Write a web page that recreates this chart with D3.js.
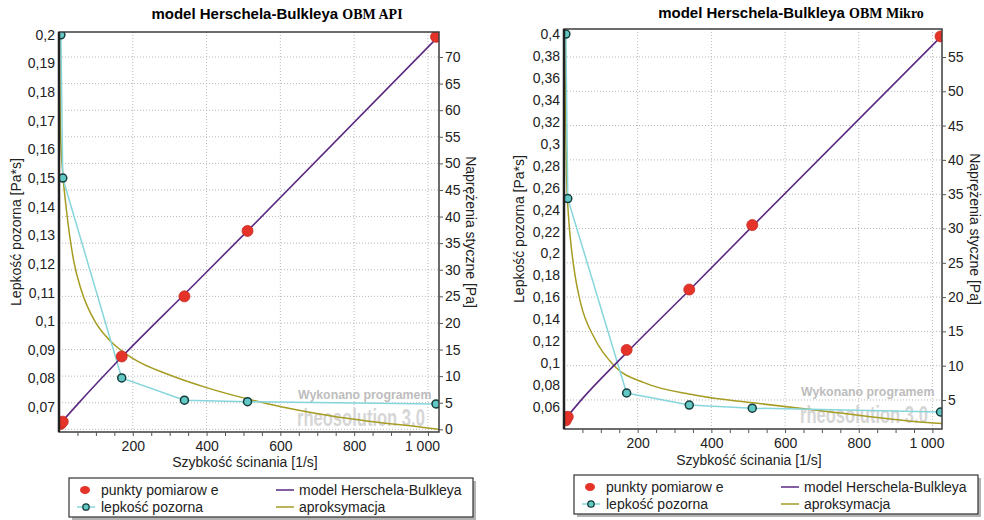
<!DOCTYPE html>
<html>
<head>
<meta charset="utf-8">
<script src="https://cdn.jsdelivr.net/npm/d3@7"></script>
<style>
  body { margin: 0; background: #fff; }
  text { font-family: "Liberation Sans", Arial, sans-serif; }
</style>
</head>
<body>
<svg id="chart" width="984" height="520"></svg>
<script>
// measured shear rates (Fann 3/6/100/200/300/600 rpm)
var shearRates = [5.11, 10.22, 170, 340, 511, 1022];

// OBM API
var apiViscosity = [0.2, 0.15, 0.0802, 0.0724, 0.0719, 0.0711];
var apiStress = [1.02, 1.45, 13.7, 25.0, 37.3, 73.8];
var apiModelRates = [0, 50, 170, 340, 511, 1022];
var apiModelStress = [0.8, 4.7, 13.6, 25.4, 37.3, 73.4];
var apiFitRates = [1, 2.5, 5, 10, 20, 40, 60, 100, 140, 200, 300, 400, 565, 743, 1005, 1030];
var apiFitViscosity = [0.2, 0.178, 0.163, 0.152, 0.139, 0.121, 0.111, 0.0994, 0.093, 0.087, 0.0812, 0.0768, 0.0712, 0.0668, 0.0626, 0.0622];

// OBM Mikro
var mikroViscosity = [0.4, 0.25, 0.0728, 0.0618, 0.059, 0.0555];
var mikroStress = [2.04, 2.55, 12.3, 21.1, 30.5, 58.0];
var mikroModelRates = [0, 50, 170, 340, 511, 1022];
var mikroModelStress = [2.0, 5.2, 11.9, 21.0, 30.3, 57.9];
var mikroFitRates = [2, 4, 7, 12, 20, 30, 45, 84, 138, 219, 354, 535, 714, 1003, 1030];
var mikroFitViscosity = [0.4, 0.33, 0.27, 0.235, 0.205, 0.18, 0.155, 0.122, 0.097, 0.082, 0.071, 0.063, 0.056, 0.0455, 0.045];

// tick labels
var xTicks = [200, 400, 600, 800, 1000];
var xMinorTicks = [50, 100, 150, 200, 250, 300, 350, 400, 450, 500, 550, 600, 650, 700, 750, 800, 850, 900, 950, 1000];
var apiLeftTicks = [0.07, 0.08, 0.09, 0.1, 0.11, 0.12, 0.13, 0.14, 0.15, 0.16, 0.17, 0.18, 0.19, 0.2];
var apiRightTicks = [0, 5, 10, 15, 20, 25, 30, 35, 40, 45, 50, 55, 60, 65, 70];
var mikroLeftTicks = [0.06, 0.08, 0.1, 0.12, 0.14, 0.16, 0.18, 0.2, 0.22, 0.24, 0.26, 0.28, 0.3, 0.32, 0.34, 0.36, 0.38, 0.4];
var mikroRightTicks = [5, 10, 15, 20, 25, 30, 35, 40, 45, 50, 55];

var legendLabels = ["punkty pomiarow e", "model Herschela-Bulkleya", "lepkość pozorna", "aproksymacja"];

var colRed = "#e63329";
var colModel = "#5a2a82";
var colVisc = "#86d6dc";
var colFit = "#a59c22";

var loc = d3.formatLocale({decimal: ",", thousands: "\u00a0", grouping: [3], currency: ["", ""]});
var fmtX = loc.format(",d");
var fmtL = loc.format(".2~f");
var fmtR = loc.format("d");

var svg = d3.select("#chart");

function drawPanel(p, idx) {
  var w = p.right - p.left;
  var h = p.bottom - p.top;

  var x = d3.scaleLinear().domain([0, p.xMax]).range([0, w]);
  var yL = d3.scaleLinear().domain(p.leftDomain).range([h, 0]);
  var yR = d3.scaleLinear().domain(p.rightDomain).range([h, 0]);

  var g = svg.append("g").attr("transform", `translate(${p.left}, ${p.top})`);

  // title
  var title = svg.append("text")
    .attr("x", p.titleX).attr("y", p.titleY)
    .attr("text-anchor", "middle");
  title.append("tspan").attr("font-weight", "bold").attr("font-size", "15px")
    .text("model Herschela-Bulkleya ");
  title.append("tspan").attr("font-weight", "bold").attr("font-size", "14px")
    .style("font-family", "'Liberation Serif', 'Times New Roman', serif")
    .text(p.name);

  var clipId = "clip" + idx;
  g.append("clipPath").attr("id", clipId)
    .append("rect").attr("width", w).attr("height", h);

  // grid
  g.append("g").selectAll("line").data(xTicks).join("line")
    .attr("x1", d => x(d)).attr("x2", d => x(d))
    .attr("y1", 0).attr("y2", h)
    .attr("stroke", "#b8b8b8").attr("stroke-dasharray", "1,2");
  g.append("g").selectAll("line").data(p.rightTicks).join("line")
    .attr("x1", 0).attr("x2", w)
    .attr("y1", d => yR(d)).attr("y2", d => yR(d))
    .attr("stroke", "#b8b8b8").attr("stroke-dasharray", "1,2");

  var plot = g.append("g").attr("clip-path", `url(#${clipId})`);

  // watermark (squeezed horizontally like the original)
  plot.append("g").attr("transform", `translate(${w - 141}, ${h - 33}) scale(0.95, 1)`)
    .append("text")
    .attr("font-size", "13px").attr("font-weight", "bold").attr("fill", "#bdbdbd")
    .text("Wykonano programem");
  plot.append("g").attr("transform", `translate(${w - 142}, ${h - 6}) scale(0.72, 1)`)
    .append("text")
    .attr("font-size", "23px").attr("font-weight", "bold").attr("fill", "#d6d6d6")
    .text("rheosolution 3.0");

  var lineL = d3.line().x(d => x(d[0])).y(d => yL(d[1]));
  var lineR = d3.line().x(d => x(d[0])).y(d => yR(d[1])).curve(d3.curveMonotoneX);
  var lineFit = d3.line().x(d => x(d[0])).y(d => yL(d[1])).curve(d3.curveMonotoneX);

  plot.append("path").datum(d3.zip(p.fitRates, p.fitVisc))
    .attr("d", lineFit).attr("fill", "none").attr("stroke", colFit).attr("stroke-width", 1.5);
  plot.append("path").datum(d3.zip(shearRates, p.visc))
    .attr("d", lineL).attr("fill", "none").attr("stroke", colVisc).attr("stroke-width", 1.5);
  plot.append("path").datum(d3.zip(p.modelRates, p.modelStress))
    .attr("d", lineR).attr("fill", "none").attr("stroke", colModel).attr("stroke-width", 1.6);

  plot.append("g").selectAll("circle").data(d3.zip(shearRates, p.stress)).join("circle")
    .attr("cx", d => x(d[0])).attr("cy", d => yR(d[1])).attr("r", 5.5)
    .attr("fill", colRed).attr("stroke", "#c42a22").attr("stroke-width", 0.8);
  plot.append("g").selectAll("circle").data(d3.zip(shearRates, p.visc)).join("circle")
    .attr("cx", d => x(d[0])).attr("cy", d => yL(d[1])).attr("r", 4)
    .attr("fill", "#62c8c4").attr("stroke", "#173c3c").attr("stroke-width", 1.5);

  // frame
  g.append("rect").attr("width", w).attr("height", h)
    .attr("fill", "none").attr("stroke", "#3c3c3c").attr("stroke-width", 1.5);
  g.append("line").attr("x1", 0).attr("x2", 0).attr("y1", 0).attr("y2", h)
    .attr("stroke", "#222").attr("stroke-width", 2.5);

  // axes
  var axL = g.append("g").call(d3.axisLeft(yL).tickValues(p.leftTicks).tickSize(0).tickPadding(4).tickFormat(fmtL));
  var axR = g.append("g").attr("transform", `translate(${w},0)`)
    .call(d3.axisRight(yR).tickValues(p.rightTicks).tickSize(4).tickPadding(2).tickFormat(fmtR));
  var axB = g.append("g").attr("transform", `translate(0,${h})`)
    .call(d3.axisBottom(x).tickValues(xTicks).tickSize(0).tickPadding(9).tickFormat(fmtX));
  var axM = g.append("g").attr("transform", `translate(0,${h})`)
    .call(d3.axisBottom(x).tickValues(xMinorTicks).tickSize(4).tickFormat(""));
  [axL, axR, axB, axM].forEach(a => {
    a.select(".domain").remove();
    a.selectAll("text").attr("font-size", "14px").attr("fill", "#222")
      .style("font-family", "'Liberation Sans', Arial, sans-serif");
    a.selectAll("line").attr("stroke", "#555");
  });
  // last label sits left of its tick, as in the original
  axB.selectAll("text").filter(d => d === 1000).attr("dx", -6);

  // axis titles
  svg.append("text")
    .attr("transform", `translate(${p.leftTitleX}, ${p.top + h / 2}) rotate(-90)`)
    .attr("text-anchor", "middle").attr("font-size", "14px").attr("fill", "#222")
    .text("Lepkość pozorna [Pa*s]");
  svg.append("text")
    .attr("transform", `translate(${p.rightTitleX}, ${p.top + h / 2}) rotate(90)`)
    .attr("text-anchor", "middle").attr("font-size", "14px").attr("fill", "#222")
    .text("Naprężenia styczne [Pa]");
  svg.append("text")
    .attr("x", p.left + w / 2 - 4).attr("y", p.xTitleY)
    .attr("text-anchor", "middle").attr("font-size", "14px").attr("fill", "#222")
    .text("Szybkość ścinania [1/s]");

  // legend
  var lg = svg.append("g").attr("transform", `translate(${p.legX}, ${p.legY})`);
  lg.append("rect").attr("x", 3).attr("y", 3).attr("width", 404).attr("height", 39).attr("fill", "#b4b4b4");
  lg.append("rect").attr("width", 404).attr("height", 39)
    .attr("fill", "#fff").attr("stroke", "#333").attr("stroke-width", 1.2);
  lg.append("ellipse").attr("cx", 16).attr("cy", 12).attr("rx", 5).attr("ry", 4).attr("fill", colRed);
  lg.append("line").attr("x1", 8).attr("x2", 26).attr("y1", 29).attr("y2", 29).attr("stroke", colVisc).attr("stroke-width", 1.5);
  lg.append("circle").attr("cx", 17).attr("cy", 29).attr("r", 3.2)
    .attr("fill", "#62c8c4").attr("stroke", "#173c3c").attr("stroke-width", 1.3);
  lg.append("line").attr("x1", 207).attr("x2", 225).attr("y1", 12).attr("y2", 12).attr("stroke", colModel).attr("stroke-width", 1.5);
  lg.append("line").attr("x1", 207).attr("x2", 225).attr("y1", 29).attr("y2", 29).attr("stroke", colFit).attr("stroke-width", 1.5);
  var pos = [[32, 17], [230, 17], [32, 34], [230, 34]];
  legendLabels.forEach((t, i) => {
    lg.append("text").attr("x", pos[i][0]).attr("y", pos[i][1])
      .attr("font-size", "14px").attr("fill", "#222").text(t);
  });
}

drawPanel({
  name: "OBM API",
  left: 59, right: 439, top: 32, bottom: 432,
  xMax: 1030, leftDomain: [0.0613, 0.201], rightDomain: [-0.5, 74.7],
  leftTicks: apiLeftTicks, rightTicks: apiRightTicks,
  visc: apiViscosity, stress: apiStress,
  modelRates: apiModelRates, modelStress: apiModelStress,
  fitRates: apiFitRates, fitVisc: apiFitViscosity,
  titleX: 277, titleY: 19, leftTitleX: 21, rightTitleX: 466, xTitleY: 467,
  legX: 69, legY: 478
}, 0);

drawPanel({
  name: "OBM Mikro",
  left: 564, right: 942, top: 29, bottom: 429,
  xMax: 1026, leftDomain: [0.04, 0.4046], rightDomain: [0.77, 59.08],
  leftTicks: mikroLeftTicks, rightTicks: mikroRightTicks,
  visc: mikroViscosity, stress: mikroStress,
  modelRates: mikroModelRates, modelStress: mikroModelStress,
  fitRates: mikroFitRates, fitVisc: mikroFitViscosity,
  titleX: 791, titleY: 18, leftTitleX: 524, rightTitleX: 970, xTitleY: 465,
  legX: 574, legY: 475
}, 1);
</script>
</body>
</html>
